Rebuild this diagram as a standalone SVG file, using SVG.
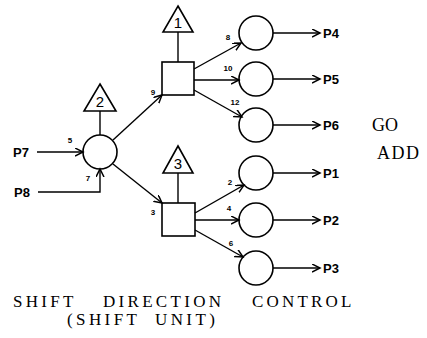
<svg xmlns="http://www.w3.org/2000/svg" width="427" height="338" viewBox="0 0 427 338">
<defs>
<marker id="arr" markerUnits="userSpaceOnUse" markerWidth="10" markerHeight="10" refX="8" refY="4" orient="auto">
<path d="M0,0 L8,4 L0,8" fill="none" stroke="#000" stroke-width="1.5"/>
</marker>
</defs>
<style>
.sh{fill:none;stroke:#000;stroke-width:1.6}
.ln{fill:none;stroke:#000;stroke-width:1.4}
.ar{marker-end:url(#arr)}
.p{font-family:"Liberation Sans",Arial,sans-serif;font-size:13px;font-weight:bold}
.n{font-family:"Liberation Sans",Arial,sans-serif;font-size:8px;font-weight:bold;text-anchor:middle}
.t{font-family:"Liberation Sans",Arial,sans-serif;font-size:15px;text-anchor:middle}
.s{font-family:"Liberation Serif","Times New Roman",serif;font-size:18px}
.b{font-family:"Liberation Serif","Times New Roman",serif;font-size:17px}
</style>
<rect width="427" height="338" fill="#fff"/>
<g id="connectors">
<line class="ln ar" x1="37" y1="152" x2="83" y2="152"/>
<polyline class="ln ar" points="38,192 100,192 100,169"/>
<line class="ln ar" x1="113" y1="140" x2="162" y2="95"/>
<line class="ln ar" x1="113" y1="164" x2="162" y2="203"/>
<line class="ln" x1="100" y1="111" x2="100" y2="135"/>
<line class="ln" x1="178" y1="32" x2="178" y2="62"/>
<line class="ln" x1="178" y1="173" x2="178" y2="203"/>
<line class="ln ar" x1="194" y1="69" x2="241" y2="43"/>
<line class="ln ar" x1="194" y1="80" x2="239" y2="80"/>
<line class="ln ar" x1="194" y1="90" x2="242" y2="117"/>
<line class="ln ar" x1="195" y1="213" x2="244" y2="185"/>
<line class="ln ar" x1="195" y1="220" x2="239" y2="220"/>
<line class="ln ar" x1="195" y1="230" x2="243" y2="257"/>
<line class="ln ar" x1="273" y1="33" x2="320" y2="33"/>
<line class="ln ar" x1="273" y1="79" x2="320" y2="79"/>
<line class="ln ar" x1="273" y1="125" x2="320" y2="125"/>
<line class="ln ar" x1="273" y1="173" x2="320" y2="173"/>
<line class="ln ar" x1="273" y1="220" x2="320" y2="220"/>
<line class="ln ar" x1="273" y1="268" x2="320" y2="268"/>
<text class="n" x="70" y="143">5</text>
<text class="n" x="88" y="181">7</text>
<text class="n" x="153" y="95">9</text>
<text class="n" x="153" y="215">3</text>
<text class="n" x="228" y="40">8</text>
<text class="n" x="228" y="71">10</text>
<text class="n" x="235" y="105">12</text>
<text class="n" x="230" y="185">2</text>
<text class="n" x="229" y="211">4</text>
<text class="n" x="231" y="246">6</text>
</g>
<g id="in-p7"><text class="p" x="13" y="157">P7</text></g>
<g id="in-p8"><text class="p" x="14" y="197">P8</text></g>
<g id="tri2"><polygon class="sh" points="100,84 116,111 84,111"/><text class="t" x="100" y="107">2</text></g>
<g id="circ-in"><circle class="sh" cx="100" cy="152" r="17"/></g>
<g id="tri1"><polygon class="sh" points="178,6 193,32 163,32"/><text class="t" x="178" y="28">1</text></g>
<g id="sq1"><rect class="sh" x="162" y="62" width="32" height="33"/></g>
<g id="tri3"><polygon class="sh" points="178,146 193,173 163,173"/><text class="t" x="178" y="169">3</text></g>
<g id="sq3"><rect class="sh" x="162" y="203" width="33" height="33"/></g>
<g id="c-p4"><circle class="sh" cx="256" cy="33" r="17"/></g>
<g id="c-p5"><circle class="sh" cx="256" cy="79" r="17"/></g>
<g id="c-p6"><circle class="sh" cx="256" cy="125" r="17"/></g>
<g id="c-p1"><circle class="sh" cx="256" cy="173" r="17"/></g>
<g id="c-p2"><circle class="sh" cx="256" cy="220" r="17"/></g>
<g id="c-p3"><circle class="sh" cx="256" cy="268" r="17"/></g>
<g id="out-p4"><text class="p" x="323" y="38">P4</text></g>
<g id="out-p5"><text class="p" x="323" y="84">P5</text></g>
<g id="out-p6"><text class="p" x="323" y="130">P6</text></g>
<g id="out-p1"><text class="p" x="323" y="178">P1</text></g>
<g id="out-p2"><text class="p" x="323" y="225">P2</text></g>
<g id="out-p3"><text class="p" x="323" y="273">P3</text></g>
<g id="labels">
<text class="s" x="372" y="131">GO</text>
<text class="s" x="377" y="159" letter-spacing="1.5">ADD</text>
<text class="b" x="13" y="307" letter-spacing="3.3">SHIFT</text>
<text class="b" x="103" y="307" letter-spacing="3.3">DIRECTION</text>
<text class="b" x="252" y="307" letter-spacing="3.2">CONTROL</text>
<text class="b" x="67" y="325" letter-spacing="3.4">(SHIFT</text>
<text class="b" x="155" y="325" letter-spacing="3.4">UNIT)</text>
</g>
</svg>
